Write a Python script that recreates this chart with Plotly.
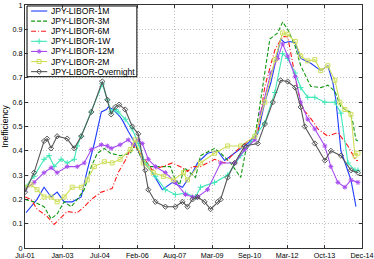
import plotly.graph_objects as go

# ---------------- data (x in decimal years, y = inefficiency) ----------------
t_1m = [2001.54, 2001.98, 2002.26, 2002.54, 2002.78, 2003.06, 2003.38, 2003.74, 2003.98, 2004.26,
        2004.54, 2004.74, 2004.82, 2005.01, 2005.29, 2005.41, 2005.61, 2005.89, 2006.17, 2006.57,
        2006.97, 2007.37, 2007.77, 2008.17, 2008.37, 2008.77, 2009.17, 2009.45, 2009.97, 2010.37,
        2010.77, 2011.05, 2011.29, 2011.68, 2011.84, 2012.04, 2012.26, 2012.48, 2012.88, 2013.28,
        2013.56, 2013.76, 2013.88, 2014.08, 2014.48, 2014.68]
v_1m = [0.145, 0.20, 0.25, 0.21, 0.23, 0.19, 0.19, 0.21, 0.32, 0.43,
        0.56, 0.57, 0.58, 0.57, 0.54, 0.52, 0.48, 0.43, 0.36, 0.31,
        0.24, 0.27, 0.25, 0.31, 0.35, 0.39, 0.40, 0.36, 0.40, 0.43,
        0.47, 0.60, 0.68, 0.86, 0.845, 0.85, 0.845, 0.78, 0.76, 0.73,
        0.75, 0.68, 0.61, 0.40, 0.28, 0.17]

t_3m = [2001.5, 2001.86, 2002.26, 2002.54, 2002.78, 2003.06, 2003.34, 2003.58, 2003.86, 2004.14,
        2004.38, 2004.66, 2004.90, 2005.29, 2005.69, 2005.89, 2006.09, 2006.49, 2006.89, 2007.29,
        2007.45, 2007.65, 2007.85, 2008.29, 2008.49, 2009.05, 2009.29, 2009.69, 2010.09, 2010.29,
        2010.65, 2010.77, 2011.25, 2011.56, 2011.76, 2011.96, 2012.26, 2012.48, 2012.88, 2013.28,
        2013.56, 2013.84, 2014.08, 2014.44, 2014.56, 2014.68, 2014.76]
v_3m = [0.20, 0.19, 0.17, 0.12, 0.14, 0.19, 0.17, 0.20, 0.24, 0.335,
        0.39, 0.41, 0.39, 0.38, 0.39, 0.425, 0.38, 0.335, 0.335, 0.335,
        0.29, 0.26, 0.33, 0.29, 0.38, 0.41, 0.39, 0.35, 0.29, 0.40,
        0.46, 0.53, 0.86, 0.885, 0.93, 0.90, 0.83, 0.75, 0.665, 0.66,
        0.67, 0.645, 0.58, 0.56, 0.515, 0.445, 0.44]

t_6m = [2001.5, 2001.74, 2001.98, 2002.38, 2002.66, 2002.94, 2003.18, 2003.58, 2003.86, 2004.14,
        2004.54, 2004.97, 2005.21, 2005.49, 2005.77, 2005.97, 2006.17, 2006.57, 2006.97, 2007.37,
        2007.77, 2007.97, 2008.17, 2008.49, 2009.05, 2009.45, 2009.97, 2010.49, 2010.77, 2011.05,
        2011.45, 2011.76, 2011.96, 2012.16, 2012.36, 2012.56, 2012.76, 2013.04, 2013.16, 2013.56,
        2013.96, 2014.36, 2014.68, 2014.76]
v_6m = [0.21, 0.20, 0.16, 0.13, 0.097, 0.125, 0.15, 0.145, 0.17, 0.20,
        0.23, 0.245, 0.31, 0.36, 0.425, 0.405, 0.38, 0.32, 0.335, 0.35,
        0.33, 0.315, 0.335, 0.335, 0.365, 0.35, 0.405, 0.445, 0.47, 0.665,
        0.815, 0.87, 0.87, 0.76, 0.65, 0.57, 0.55, 0.51, 0.49, 0.46,
        0.475, 0.42, 0.36, 0.36]

t_1w = [2001.5, 2001.86, 2002.26, 2002.46, 2002.66, 2002.94, 2003.18, 2003.46, 2003.58, 2003.74,
        2004.14, 2004.58, 2004.78, 2004.93, 2005.09, 2005.21, 2005.49, 2005.77, 2006.01, 2006.29,
        2006.69, 2007.09, 2007.49, 2007.89, 2008.29, 2008.49, 2009.05, 2009.57, 2010.09, 2010.65,
        2011.05, 2011.45, 2011.76, 2011.96, 2012.26, 2012.48, 2012.76, 2013.04, 2013.44, 2013.84,
        2014.08, 2014.36, 2014.64, 2014.76]
v_1w = [0.25, 0.295, 0.365, 0.38, 0.335, 0.365, 0.35, 0.365, 0.42, 0.46,
        0.56, 0.675, 0.61, 0.56, 0.57, 0.56, 0.53, 0.49, 0.43, 0.35,
        0.295, 0.24, 0.22, 0.225, 0.21, 0.25, 0.27, 0.30, 0.38, 0.46,
        0.515, 0.64, 0.80, 0.78, 0.72, 0.66, 0.62, 0.62, 0.60, 0.60,
        0.555, 0.35, 0.32, 0.32]

t_12m = [2001.5, 2001.86, 2002.26, 2002.54, 2002.78, 2003.18, 2003.58, 2003.86, 2004.14, 2004.54,
         2004.78, 2004.93, 2005.29, 2005.61, 2005.81, 2006.01, 2006.17, 2006.41, 2006.69, 2007.09,
         2007.49, 2007.89, 2008.17, 2008.37, 2008.77, 2009.29, 2009.85, 2010.25, 2010.65, 2010.89,
         2011.29, 2011.56, 2011.76, 2011.96, 2012.26, 2012.48, 2012.76, 2013.04, 2013.44, 2013.68,
         2013.96, 2014.24, 2014.48, 2014.76]
v_12m = [0.24, 0.27, 0.31, 0.33, 0.31, 0.335, 0.335, 0.35, 0.405, 0.425,
         0.42, 0.41, 0.425, 0.445, 0.425, 0.445, 0.43, 0.365, 0.335, 0.31,
         0.27, 0.22, 0.21, 0.21, 0.24, 0.35, 0.35, 0.405, 0.445, 0.555,
         0.72, 0.78, 0.84, 0.79, 0.705, 0.60, 0.53, 0.49, 0.42, 0.335,
         0.27, 0.25, 0.28, 0.27]

t_2m = [2001.5, 2001.74, 2001.98, 2002.26, 2002.54, 2002.78, 2003.06, 2003.38, 2003.74, 2003.98,
        2004.26, 2004.66, 2004.97, 2005.29, 2005.69, 2005.89, 2006.21, 2006.61, 2007.01, 2007.41,
        2007.81, 2007.97, 2008.49, 2009.05, 2009.57, 2010.09, 2010.65, 2011.05, 2011.45, 2011.76,
        2011.96, 2012.26, 2012.48, 2012.76, 2013.04, 2013.28, 2013.56, 2013.84, 2014.04, 2014.24,
        2014.48, 2014.64, 2014.76]
v_2m = [0.25, 0.26, 0.24, 0.21, 0.21, 0.19, 0.21, 0.25, 0.25, 0.28,
        0.335, 0.355, 0.35, 0.365, 0.405, 0.445, 0.35, 0.31, 0.295, 0.28,
        0.31, 0.28, 0.35, 0.39, 0.42, 0.42, 0.46, 0.60, 0.775, 0.885,
        0.88, 0.85, 0.79, 0.77, 0.775, 0.73, 0.75, 0.69, 0.60, 0.57,
        0.55, 0.38, 0.39]

t_on = [2001.5, 2001.86, 2002.26, 2002.38, 2002.54, 2002.78, 2003.18, 2003.46, 2003.74, 2004.14,
        2004.58, 2004.78, 2004.93, 2005.09, 2005.25, 2005.49, 2005.77, 2006.01, 2006.29, 2006.41,
        2006.69, 2007.09, 2007.49, 2007.77, 2007.97, 2008.17, 2008.37, 2008.65, 2008.89, 2009.17,
        2009.29, 2009.57, 2009.85, 2010.25, 2010.77, 2011.05, 2011.37, 2011.68, 2011.96, 2012.26,
        2012.48, 2012.64, 2013.04, 2013.44, 2013.68, 2014.08, 2014.48, 2014.76]
v_on = [0.23, 0.31, 0.44, 0.45, 0.41, 0.46, 0.45, 0.41, 0.46, 0.56,
        0.685, 0.61, 0.55, 0.58, 0.59, 0.57, 0.50, 0.47, 0.32, 0.24,
        0.19, 0.17, 0.17, 0.19, 0.17, 0.20, 0.21, 0.19, 0.16, 0.19,
        0.20, 0.29, 0.35, 0.42, 0.43, 0.51, 0.60, 0.69, 0.685, 0.66,
        0.58, 0.50, 0.43, 0.36, 0.40, 0.38, 0.32, 0.31]

names = ["JPY-LIBOR-1M", "JPY-LIBOR-3M", "JPY-LIBOR-6M", "JPY-LIBOR-1W",
         "JPY-LIBOR-12M", "JPY-LIBOR-2M", "JPY-LIBOR-Overnight"]

x_tick_labels = ["Jul-01", "Jan-03", "Jul-04", "Feb-06", "Aug-07",
                 "Mar-09", "Sep-10", "Mar-12", "Oct-13", "Dec-14"]
y_tick_values = [0, 0.1, 0.2, 0.3, 0.4, 0.5, 0.6, 0.7, 0.8, 0.9, 1]

# ---------------- styling ----------------
X0, X1 = 2001.5, 2014.92
FONT = "Liberation Sans, Arial, sans-serif"
styles = [
    dict(color="#1f3cff", dash="solid", symbol=None, msize=0),
    dict(color="#129a12", dash="4px,2px", symbol=None, msize=0),
    dict(color="#ff1a1a", dash="5px,2px,1px,2px", symbol=None, msize=0),
    dict(color="#40e8b8", dash="solid", symbol="cross-thin-open", msize=4),
    dict(color="#a64bf0", dash="solid", symbol="asterisk-open", msize=4),
    dict(color="#cede5a", dash="solid", symbol="square-open", msize=4),
    dict(color="#555555", dash="solid", symbol="diamond-open", msize=4),
]
xs = [t_1m, t_3m, t_6m, t_1w, t_12m, t_2m, t_on]
ys = [v_1m, v_3m, v_6m, v_1w, v_12m, v_2m, v_on]

fig = go.Figure()
for name, x, y, s in zip(names, xs, ys, styles):
    mode = "lines+markers" if s["symbol"] else "lines"
    fig.add_trace(go.Scatter(
        x=x, y=y, name=name, mode=mode, showlegend=False,
        line=dict(color=s["color"], width=1.1, dash=s["dash"]),
        marker=dict(symbol=s["symbol"] or "circle", size=s["msize"],
                    color=s["color"], line=dict(color=s["color"], width=1)),
    ))

# ---------------- custom compact legend (overlay axes in 0..1 units) ----------------
lx0, lx1 = 0.006, 0.332
ly_top, ly_bot = 0.996, 0.705
row_step = (ly_top - ly_bot) / len(names)
seg_x0, seg_x1 = 0.018, 0.066

# legend box (white, black border) drawn on the overlay axes, above the data
fig.add_trace(go.Scatter(
    x=[lx0, lx1, lx1, lx0, lx0], y=[ly_bot, ly_bot, ly_top, ly_top, ly_bot],
    xaxis="x2", yaxis="y2", mode="lines", fill="toself", fillcolor="#ffffff",
    line=dict(color="#000000", width=1), showlegend=False, hoverinfo="skip"))

for i, (name, s) in enumerate(zip(names, styles)):
    yy = ly_top - row_step * (i + 0.5)
    fig.add_trace(go.Scatter(
        x=[seg_x0, seg_x1], y=[yy, yy], xaxis="x2", yaxis="y2", mode="lines",
        showlegend=False, hoverinfo="skip",
        line=dict(color=s["color"], width=1.1, dash=s["dash"])))
    if s["symbol"]:
        fig.add_trace(go.Scatter(
            x=[(seg_x0 + seg_x1) / 2], y=[yy], xaxis="x2", yaxis="y2", mode="markers",
            showlegend=False, hoverinfo="skip",
            marker=dict(symbol=s["symbol"], size=s["msize"], color=s["color"],
                        line=dict(color=s["color"], width=1))))
    fig.add_annotation(x=seg_x1 + 0.004, y=yy, xref="x2", yref="y2", text=name,
                       showarrow=False, xanchor="left", yanchor="middle",
                       font=dict(family=FONT, size=8.6, color="#000000"))

tickvals = [X0 + (X1 - X0) * k / (len(x_tick_labels) - 1) for k in range(len(x_tick_labels))]

axis_common = dict(showline=True, linecolor="#333333", linewidth=1, mirror="ticks",
                   ticks="inside", ticklen=3, tickcolor="#333333", automargin=False,
                   showgrid=True, gridcolor="#c4c4c4", gridwidth=1, griddash="1px,2px",
                   zeroline=False, tickfont=dict(family=FONT, size=7.2, color="#000000"))

fig.update_layout(
    width=374, height=259,
    margin=dict(l=25, r=12, t=5, b=11, autoexpand=False),
    paper_bgcolor="white", plot_bgcolor="white",
    font=dict(family=FONT, size=8, color="#000000"),
    xaxis=dict(range=[X0, X1], tickvals=tickvals, ticktext=x_tick_labels, **axis_common),
    yaxis=dict(range=[0, 1], tickvals=y_tick_values, title=dict(
        text="Inefficiency", font=dict(family=FONT, size=8.5), standoff=4), **axis_common),
    xaxis2=dict(range=[0, 1], overlaying="x", visible=False, fixedrange=True),
    yaxis2=dict(range=[0, 1], overlaying="y", visible=False, fixedrange=True),
    showlegend=False,
)

fig.write_html("out.html", config={"displayModeBar": False},
               post_script="document.body.style.margin='0';document.body.style.padding='0';")
